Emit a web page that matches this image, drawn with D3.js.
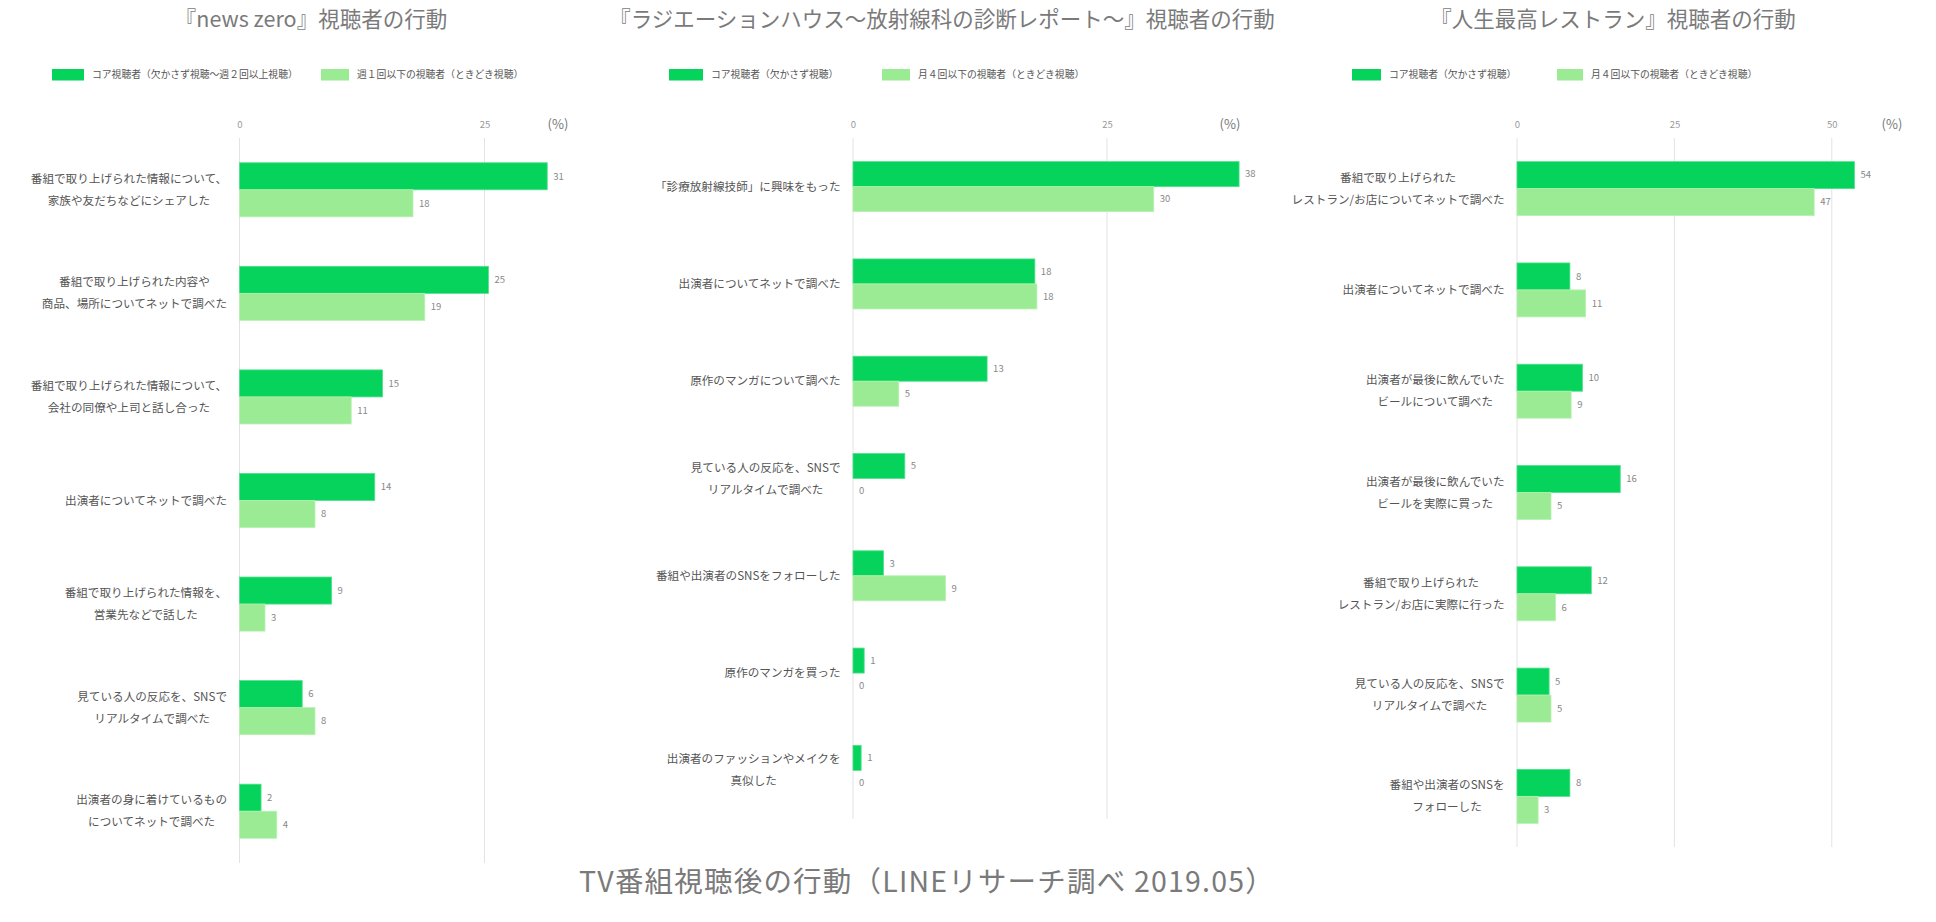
<!DOCTYPE html>
<html><head><meta charset="utf-8">
<script src="https://cdn.jsdelivr.net/npm/d3@7/dist/d3.min.js"></script>
<style>
html,body{margin:0;padding:0;background:#fff;}
svg{display:block;font-family:"Noto Sans CJK JP","Noto Sans",sans-serif;}
</style></head>
<body>
<svg id="chart" width="1936" height="922"></svg>
<script>
// ---------- DATA ----------
const mainTitle = "TV番組視聴後の行動（LINEリサーチ調べ 2019.05）";
const panelTitles = ["『news zero』視聴者の行動", "『ラジエーションハウス～放射線科の診断レポート～』視聴者の行動", "『人生最高レストラン』視聴者の行動"];

const nzCategories = [
  "番組で取り上げられた情報について、\n家族や友だちなどにシェアした",
  "番組で取り上げられた内容や\n商品、場所についてネットで調べた",
  "番組で取り上げられた情報について、\n会社の同僚や上司と話し合った",
  "出演者についてネットで調べた",
  "番組で取り上げられた情報を、\n営業先などで話した",
  "見ている人の反応を、SNSで\nリアルタイムで調べた",
  "出演者の身に着けているもの\nについてネットで調べた"
];
const nzCore  = [31.4, 25.4, 14.6, 13.8, 9.4, 6.4, 2.2];
const nzLight = [17.7, 18.9, 11.4, 7.7, 2.6, 7.7, 3.8];
const nzLegend = ["コア視聴者（欠かさず視聴～週２回以上視聴）", "週１回以下の視聴者（ときどき視聴）"];
const nzTicks = [0, 25];

const rhCategories = [
  "「診療放射線技師」に興味をもった",
  "出演者についてネットで調べた",
  "原作のマンガについて調べた",
  "見ている人の反応を、SNSで\nリアルタイムで調べた",
  "番組や出演者のSNSをフォローした",
  "原作のマンガを買った",
  "出演者のファッションやメイクを\n真似した"
];
const rhCore  = [38.0, 17.9, 13.2, 5.1, 3.0, 1.1, 0.8];
const rhLight = [29.6, 18.1, 4.5, 0, 9.1, 0, 0];
const rhLegend = ["コア視聴者（欠かさず視聴）", "月４回以下の視聴者（ときどき視聴）"];
const rhTicks = [0, 25];

const srCategories = [
  "番組で取り上げられた\nレストラン/お店についてネットで調べた",
  "出演者についてネットで調べた",
  "出演者が最後に飲んでいた\nビールについて調べた",
  "出演者が最後に飲んでいた\nビールを実際に買った",
  "番組で取り上げられた\nレストラン/お店に実際に行った",
  "見ている人の反応を、SNSで\nリアルタイムで調べた",
  "番組や出演者のSNSを\nフォローした"
];
const srCore  = [53.6, 8.4, 10.4, 16.4, 11.8, 5.1, 8.4];
const srLight = [47.2, 10.9, 8.6, 5.4, 6.1, 5.4, 3.35];
const srLegend = ["コア視聴者（欠かさず視聴）", "月４回以下の視聴者（ときどき視聴）"];
const srTicks = [0, 25, 50];

const seriesColors = ["#05D35B", "#9BEA94"];
const seriesStrokes = ["#4fe08a", "#b6f1b1"];

// ---------- LAYOUT ----------
const panels = [
  {title: panelTitles[0], cats: nzCategories, core: nzCore, light: nzLight, legend: nzLegend, ticks: nzTicks,
   x0: 239.5, xmax: 35, pxPerUnit: 9.8, yBottom: 863, pad: 0.478, titleX: 311,
   leg: [52, 92, 321, 357], pctX: 558},
  {title: panelTitles[1], cats: rhCategories, core: rhCore, light: rhLight, legend: rhLegend, ticks: rhTicks,
   x0: 853, xmax: 40, pxPerUnit: 10.16, yBottom: 819, pad: 0.486, titleX: 942,
   leg: [669, 711, 882, 918], pctX: 1230},
  {title: panelTitles[2], cats: srCategories, core: srCore, light: srLight, legend: srLegend, ticks: srTicks,
   x0: 1517, xmax: 60, pxPerUnit: 6.296, yBottom: 847, pad: 0.467, titleX: 1613,
   leg: [1352, 1389, 1557, 1591], pctX: 1892}
];
const yTop = 138;

const svg = d3.select("#chart");

panels.forEach(p => {
  const g = svg.append("g");
  const x = d3.scaleLinear().domain([0, p.xmax]).range([p.x0, p.x0 + p.xmax * p.pxPerUnit]);
  const y = d3.scaleBand().domain(d3.range(p.cats.length)).range([yTop, p.yBottom])
    .paddingInner(p.pad).paddingOuter(p.pad / 2);
  const ySub = d3.scaleBand().domain([0, 1]).range([0, y.bandwidth()]);

  // title
  g.append("text").attr("x", p.titleX).attr("y", 19).attr("dy", "0.35em")
    .attr("text-anchor", "middle").attr("font-size", 21.5).attr("fill", "#7a7a7a")
    .text(p.title);

  // legend
  [0, 1].forEach(i => {
    g.append("rect").attr("x", p.leg[i * 2]).attr("y", 69).attr("width", p.leg[i * 2 + 1] - p.leg[i * 2] - 8)
      .attr("height", 11.5).attr("fill", seriesColors[i]);
    g.append("text").attr("x", p.leg[i * 2 + 1]).attr("y", 74.5).attr("dy", "0.35em")
      .attr("font-size", 9.8).attr("fill", "#555").text(p.legend[i]);
  });

  // gridlines
  g.selectAll("line.grid").data(p.ticks).join("line")
    .attr("x1", d => x(d)).attr("x2", d => x(d))
    .attr("y1", yTop).attr("y2", p.yBottom)
    .attr("stroke", "#e3e3e3").attr("stroke-width", 1);

  // axis
  const ax = g.append("g").attr("transform", `translate(0,125)`)
    .call(d3.axisTop(x).tickValues(p.ticks).tickSize(0).tickPadding(0).tickFormat(d3.format("d")));
  ax.select(".domain").remove();
  ax.selectAll("text").attr("y", 0).attr("dy", "0.35em").attr("font-size", 9.5)
    .attr("fill", "#999").attr("font-family", "'Noto Sans CJK JP', sans-serif");

  g.append("text").attr("x", p.pctX).attr("y", 124).attr("dy", "0.35em").attr("text-anchor", "middle")
    .attr("font-size", 13).attr("fill", "#777").text("(%)");

  // bars
  const series = [p.core, p.light];
  series.forEach((vals, si) => {
    g.selectAll(null).data(vals).join("rect")
      .attr("x", x(0))
      .attr("y", (d, i) => y(i) + ySub(si))
      .attr("width", d => Math.max(0, x(d) - x(0)))
      .attr("height", ySub.bandwidth())
      .attr("fill", seriesColors[si])
      .attr("stroke", d => d > 0 ? seriesStrokes[si] : "none")
      .attr("stroke-width", 0.8);
    g.selectAll(null).data(vals).join("text")
      .attr("x", d => x(d) + 6)
      .attr("y", (d, i) => y(i) + ySub(si) + ySub.bandwidth() / 2)
      .attr("dy", "0.35em")
      .attr("font-size", 9.5).attr("fill", "#888")
      .text(d => Math.round(d));
  });

  // category labels: block right-aligned, lines centered within block
  const rightEdge = x(0) - 12.5;
  p.cats.forEach((c, i) => {
    const lines = c.split("\n");
    const cy = y(i) + y.bandwidth() / 2;
    const lh = 22;
    const texts = lines.map((ln, li) => g.append("text")
      .attr("y", cy + (li - (lines.length - 1) / 2) * lh)
      .attr("dy", "0.35em").attr("text-anchor", "middle")
      .attr("font-size", 11.6).attr("fill", "#555").text(ln));
    const maxW = d3.max(texts, t => t.node().getComputedTextLength());
    texts.forEach(t => t.attr("x", rightEdge - maxW / 2));
  });
});

// main title
svg.append("text").attr("x", 927).attr("y", 882).attr("dy", "0.35em").attr("text-anchor", "middle")
  .attr("font-size", 28.5).attr("letter-spacing", 1.2).attr("fill", "#7a7a7a").text(mainTitle);
</script>
</body></html>
